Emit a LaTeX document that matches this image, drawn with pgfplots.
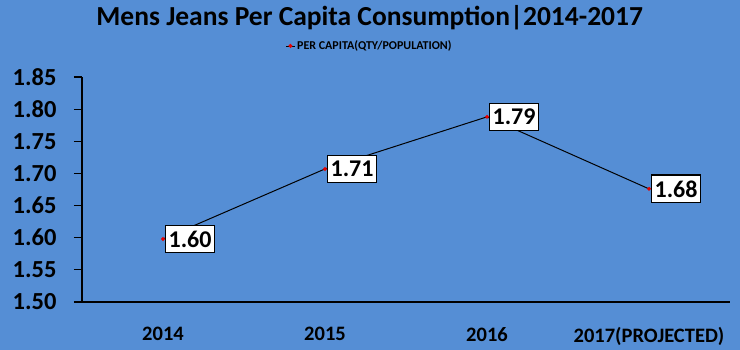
\documentclass[border=0pt]{standalone}
\usepackage{fontspec}
\setmainfont{Carlito}
\usepackage{pgfplots}
\pgfplotsset{compat=1.18}
\definecolor{bgblue}{RGB}{85,142,213}
\definecolor{mkred}{RGB}{230,0,0}
\begin{document}
\begin{tikzpicture}
\fill[bgblue] (0,0) rectangle (740bp,350bp);
\begin{axis}[
  at={(82bp,48bp)}, anchor=south west,
  scale only axis, width=648bp, height=225bp,
  xmin=-0.5, xmax=3.5, ymin=1.5, ymax=1.85,
  axis x line*=bottom, axis y line*=left,
  axis line style={black, line width=1.2pt, -},
  xtick=data,
  xticklabels={2014,2015,2016,2017(PROJECTED)},
  x tick style={draw=none},
  ytick={1.50,1.55,...,1.86},
  y tick style={black, line width=1.2pt},
  tick align=outside, major tick length=8bp,
  /pgf/number format/assume math mode=true,
  /pgf/number format/.cd, fixed, fixed zerofill, precision=2, /pgfplots/.cd,
  yticklabel style={font=\fontsize{24.5bp}{27bp}\selectfont\bfseries, xshift=-14bp},
  xticklabel style={font=\fontsize{20.5bp}{23bp}\selectfont\bfseries, yshift=-14bp},
  title={Mens Jeans Per Capita Consumption|2014-2017},
  title style={font=\fontsize{27.5bp}{30bp}\selectfont\bfseries, at={(0.444,1.236)}, anchor=center},
  legend style={at={(0.444,1.138)}, anchor=center, draw=none, fill=none,
    font=\fontsize{12bp}{13bp}\selectfont\bfseries, inner sep=0pt,
    legend cell align=left, /tikz/every even column/.append style={column sep=0pt}},
  legend image code/.code={
    \draw[black, line width=0.8pt] (0cm,0cm) -- (0.3cm,0cm);
    \fill[mkred] (0.15cm,0cm) circle (1.5bp);
  },
  clip=false,
  nodes near coords,
  point meta=y,
  every node near coord/.append style={
    anchor=west, xshift=2bp,
    fill=white, draw=black, line width=1.3pt, inner xsep=3bp, inner ysep=5.5bp,
    font=\fontsize{24bp}{26bp}\selectfont\bfseries,
    /pgf/number format/assume math mode=true,
    /pgf/number format/fixed, /pgf/number format/fixed zerofill,
    /pgf/number format/precision=2},
]
\addplot[black, line width=1pt, mark=*, mark size=1.4bp,
  mark options={fill=mkred, draw=mkred}]
  coordinates {(0,1.598) (1,1.707) (2,1.788) (3,1.676)};
\addlegendentry{PER CAPITA(QTY/POPULATION)}
\end{axis}
\end{tikzpicture}
\end{document}
